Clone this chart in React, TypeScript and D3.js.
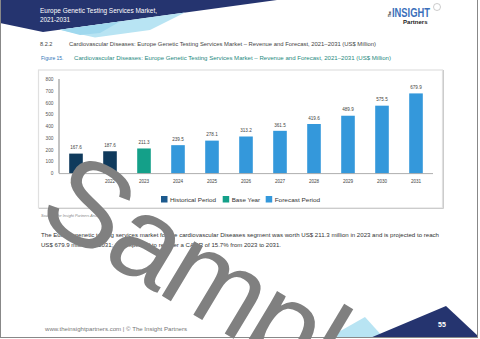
import React from 'react';
import * as d3 from 'd3';

const years = ['2021', '2022', '2023', '2024', '2025', '2026', '2027', '2028', '2029', '2030', '2031'];
const values = [167.6, 187.6, 211.3, 239.5, 278.1, 313.2, 361.5, 419.6, 489.9, 575.5, 679.9];
const periods = ['hist', 'hist', 'base', 'fore', 'fore', 'fore', 'fore', 'fore', 'fore', 'fore', 'fore'];
const yTicks = [0, 100, 200, 300, 400, 500, 600, 700, 800];
const legendKeys = ['hist', 'base', 'fore'];
const legendLabels = ['Historical Period', 'Base Year', 'Forecast Period'];

const barColor: Record<string, string> = { hist: '#0f3a5c', base: '#14a089', fore: '#3498db' };
const legendColor: Record<string, string> = { hist: '#1c5a8e', base: '#14a089', fore: '#3498db' };

const FONT = '"Liberation Sans", Arial, sans-serif';

export default function App() {
  const x = d3.scaleBand<string>().domain(years).range([59, 433]).paddingInner(0.6).paddingOuter(0.3);
  const y = d3.scaleLinear().domain([0, 800]).range([173.3, 79.3]);
  const legendX = [161, 222.7, 265.7];
  const legendTextW = [46, 28.5, 45.5];

  React.useEffect(() => {
    document.body.style.margin = '0';
  }, []);

  const th = 31;
  const F = 120;
  return (
    <svg width={480} height={339} style={{ position: 'absolute', left: 0, top: 0, background: '#fff' }} fontFamily={FONT}>
      <rect x={0} y={0} width={480} height={339} fill="#fff" />
      {/* header */}
      <polygon points="0,0 277,0 43,32 0,23" fill="#25346f" />
      <polygon points="60,29.7 185,12.6 150,30 95,37.5" fill="#b8e4f3" />
      <polygon points="60,29.7 120,21.5 100,33 80,35" fill="#9fd8ee" />
      <text x={40} y={13} fontSize={6.3} fill="#fff" textLength={117} lengthAdjust="spacingAndGlyphs">Europe Genetic Testing Services Market,</text>
      <text x={40} y={21.5} fontSize={6.3} fill="#fff">2021-2031</text>
      {/* logo */}
      <text x={392} y={17} fontSize={12.5} fontWeight="bold" fill="#3a6fba" textLength={38} lengthAdjust="spacingAndGlyphs">INSIGHT</text>
      <text x={0} y={0} fontSize={3.2} fontWeight="bold" fill="#222" transform="translate(390.5,17) rotate(-90)">The</text>
      <text x={403} y={24} fontSize={5.5} fontWeight="bold" fill="#222" textLength={24.5} lengthAdjust="spacingAndGlyphs">Partners</text>
      <circle cx={437} cy={7} r={3.5} fill="none" stroke="#aaa" strokeWidth={0.6} />
      {/* section heading */}
      <text x={40} y={46} fontSize={5.6} fill="#444">8.2.2</text>
      <text x={69} y={46} fontSize={5.6} fill="#444" textLength={307} lengthAdjust="spacingAndGlyphs">Cardiovascular Diseases: Europe Genetic Testing Services Market – Revenue and Forecast, 2021–2031 (US$ Million)</text>
      <text x={41} y={60} fontSize={5.7} fill="#2e75b6" textLength={22.5} lengthAdjust="spacingAndGlyphs">Figure 15.</text>
      <text x={74} y={60} fontSize={5.7} fill="#1f8a80" textLength={317} lengthAdjust="spacingAndGlyphs">Cardiovascular Diseases: Europe Genetic Testing Services Market – Revenue and Forecast, 2021–2031 (US$ Million)</text>
      {/* chart box */}
      <rect x={38.5} y={70} width={404} height={138} fill="#fff" stroke="#e0e0e0" strokeWidth={1.2} />
      <line x1={39} y1={208.5} x2={443.5} y2={208.5} stroke="#ccc" strokeWidth={1} />
      <line x1={443.5} y1={70} x2={443.5} y2={208.5} stroke="#ccc" strokeWidth={1} />
      {/* y axis */}
      <line x1={59} y1={79} x2={59} y2={173.3} stroke="#555" strokeWidth={0.7} />
      {yTicks.map((t) => (
        <text key={t} x={53.5} y={y(t) + 1.7} fontSize={4.8} fill="#555" textAnchor="end">{t}</text>
      ))}
      {/* bars */}
      {years.map((yr, i) => (
        <g key={yr}>
          <rect x={x(yr)} y={y(values[i])} width={x.bandwidth()} height={y(0) - y(values[i])} fill={barColor[periods[i]]} />
          <text x={(x(yr) as number) + x.bandwidth() / 2} y={y(values[i]) - 4.3} fontSize={4.6} fill="#444" textAnchor="middle">{values[i].toFixed(1)}</text>
          <text x={(x(yr) as number) + x.bandwidth() / 2} y={182.5} fontSize={4.6} fill="#444" textAnchor="middle">{yr}</text>
        </g>
      ))}
      <line x1={59} y1={173.6} x2={433} y2={173.6} stroke="#999" strokeWidth={0.8} />
      {/* legend */}
      {legendKeys.map((k, i) => (
        <g key={k}>
          <rect x={legendX[i]} y={196} width={6.5} height={6.5} fill={legendColor[k]} />
          <text x={legendX[i] + 9} y={201.6} fontSize={6.2} fill="#333" textLength={legendTextW[i]} lengthAdjust="spacingAndGlyphs">{legendLabels[i]}</text>
        </g>
      ))}
      {/* source & paragraph */}
      <text x={41} y={216.5} fontSize={3.8} fill="#888" fontStyle="italic">Source: The Insight Partners Analysis</text>
      <text x={41} y={236.5} fontSize={5.4} fill="#333" textLength={398} lengthAdjust="spacingAndGlyphs">The Europe genetic testing services market for the cardiovascular Diseases segment was worth US$ 211.3 million in 2023 and is projected to reach</text>
      <text x={41} y={247} fontSize={5.4} fill="#333" textLength={240} lengthAdjust="spacingAndGlyphs">US$ 679.9 million by 2031; it is expected to register a CAGR of 15.7% from 2023 to 2031.</text>
      {/* footer */}
      <text x={45} y={331} fontSize={4.8} fill="#777" textLength={142} lengthAdjust="spacingAndGlyphs">www.theinsightpartners.com  |  © The Insight Partners</text>
      <polygon points="328,338 365,317 384,338" fill="#b8e4f3" />
      <polygon points="370,338 446,306 478,336 478,338" fill="#25346f" />
      <text x={442} y={327} fontSize={7} fontWeight="bold" fill="#fff" textAnchor="middle">55</text>
      {/* page border */}
      <line x1={0.5} y1={0} x2={0.5} y2={338} stroke="#888" strokeWidth={1} />
      <line x1={477.5} y1={0} x2={477.5} y2={338} stroke="#888" strokeWidth={1} />
      <line x1={0} y1={337.5} x2={478} y2={337.5} stroke="#888" strokeWidth={1} />
      {/* watermark */}
      <text x={0} y={0} fontSize={F} fill="#808080" letterSpacing={-3} transform={`translate(34,219) rotate(${th})`} fontFamily={FONT}>Sample</text>
    </svg>
  );
}
